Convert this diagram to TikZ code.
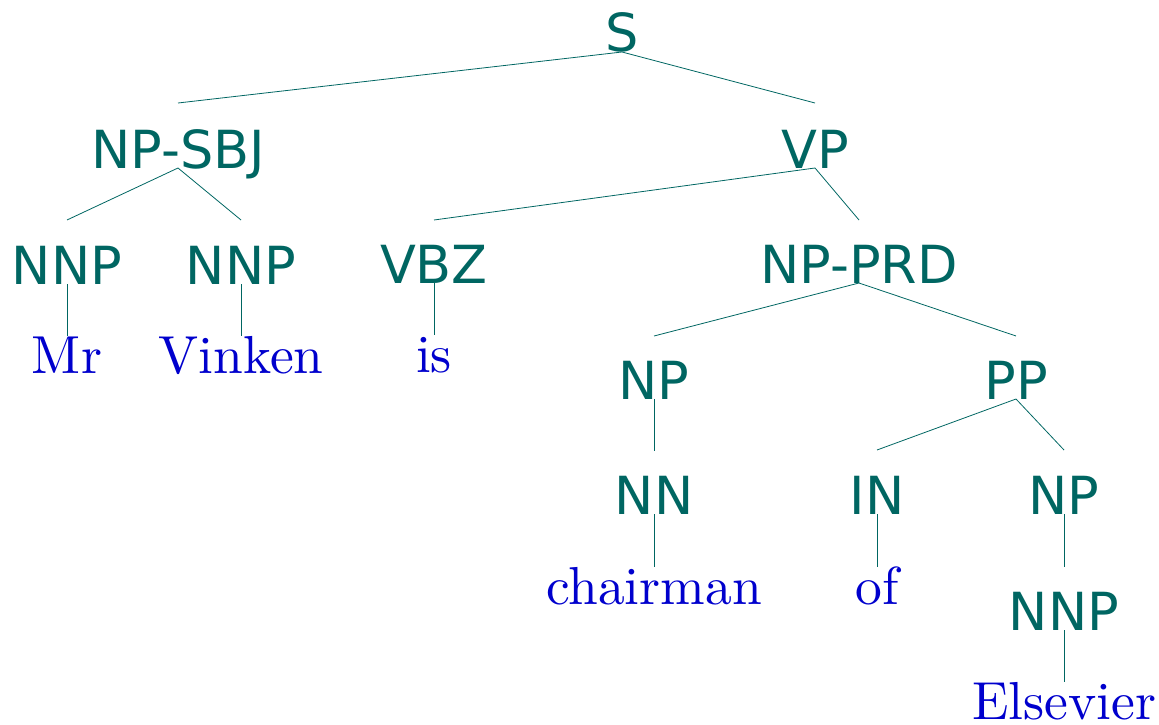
\documentclass[tikz,border=0pt]{standalone}
\usepackage{fontspec}
\newfontfamily\catfont{DejaVu Sans}
\newfontfamily\wordfont{lmroman10-regular.otf}
\definecolor{catcol}{RGB}{0,102,98}
\definecolor{wordcol}{RGB}{0,0,205}
\begin{document}
\begin{tikzpicture}[x=1pt,y=-1pt,
  cat/.style={anchor=base, inner sep=0pt, text=catcol,
    font=\catfont\fontsize{52.5}{60}\selectfont},
  word/.style={anchor=base, inner sep=0pt, text=wordcol,
    font=\wordfont\fontsize{53.5}{60}\selectfont},
  branch/.style={draw=catcol, line width=0.8pt}]
\useasboundingbox (0,0) rectangle (1159,725);

% phrase and part-of-speech labels
\node[cat] (s)     at (622,52)  {S};
\node[cat] (npsbj) at (178,168) {NP-SBJ};
\node[cat] (vp)    at (815,168) {VP};
\node[cat] (nnpa)  at (67,284)  {NNP};
\node[cat] (nnpb)  at (241,284) {NNP};
\node[cat] (vbz)   at (434,283) {VBZ};
\node[cat] (npprd) at (859,283) {NP-PRD};
\node[cat] (npa)   at (654,399) {NP};
\node[cat] (pp)    at (1016,399) {PP};
\node[cat] (nn)    at (654,514) {NN};
\node[cat] (in)    at (877,514) {IN};
\node[cat] (npb)   at (1064,514) {NP};
\node[cat] (nnpc)  at (1064,630) {NNP};

% words
\node[word] (mr)       at (67,373)   {Mr};
\node[word] (vinken)   at (241,373)  {Vinken};
\node[word] (is)       at (434,372)  {is};
\node[word] (chairman) at (654,604)  {chairman};
\node[word] (of)       at (877,604)  {of};
\node[word] (elsevier) at (1064,719) {Elsevier};

% branches between labels
\draw[branch] (s.base) -- ([yshift=65pt]npsbj.base);
\draw[branch] (s.base) -- ([yshift=65pt]vp.base);
\draw[branch] (npsbj.base) -- ([yshift=64pt]nnpa.base);
\draw[branch] (npsbj.base) -- ([yshift=64pt]nnpb.base);
\draw[branch] (vp.base) -- ([yshift=63pt]vbz.base);
\draw[branch] (vp.base) -- ([yshift=63pt]npprd.base);
\draw[branch] (npprd.base) -- ([yshift=63pt]npa.base);
\draw[branch] (npprd.base) -- ([yshift=63pt]pp.base);
\draw[branch] (npa.base) -- ([yshift=63pt]nn.base);
\draw[branch] (pp.base) -- ([yshift=64pt]in.base);
\draw[branch] (pp.base) -- ([yshift=64pt]npb.base);
\draw[branch] (npb.base) -- ([yshift=63pt]nnpc.base);

% branches down to words
\draw[branch] (nnpa.base) -- ([yshift=37pt]mr.base);
\draw[branch] (nnpb.base) -- ([yshift=37pt]vinken.base);
\draw[branch] (vbz.base) -- ([yshift=37pt]is.base);
\draw[branch] (nn.base) -- ([yshift=37pt]chairman.base);
\draw[branch] (in.base) -- ([yshift=37pt]of.base);
\draw[branch] (nnpc.base) -- ([yshift=37pt]elsevier.base);
\end{tikzpicture}
\end{document}
